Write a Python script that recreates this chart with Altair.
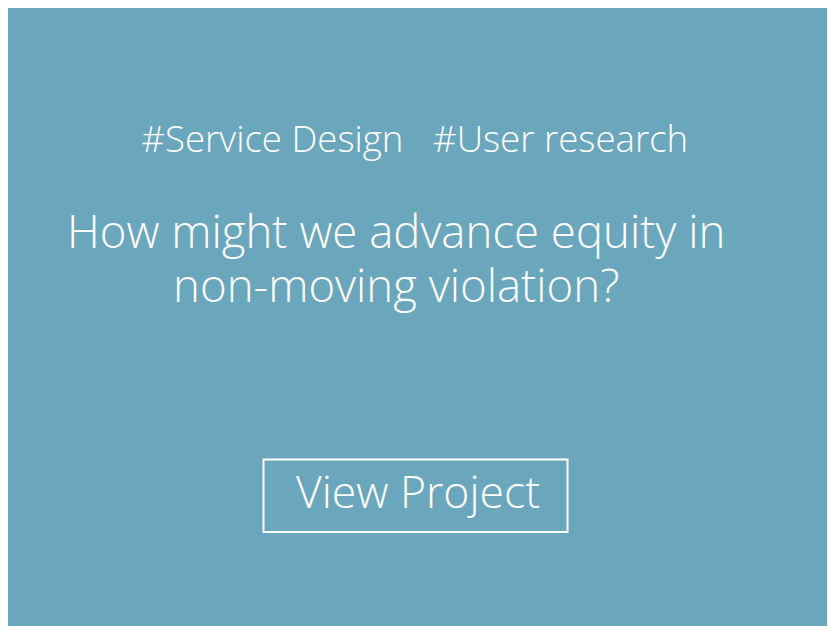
import altair as alt
import pandas as pd

tags = ["#Service Design", "#User research"]
tag_x = [275, 566]
title_lines = ["How might we advance equity in", "non-moving violation?"]
button_label = ["View Project"]

W, H = 827, 618
xs = alt.Scale(domain=[8, 835])
ys = alt.Scale(domain=[626, 8])

tag_df = pd.DataFrame({"t": tags, "x": tag_x, "y": [139, 139]})
title_df = pd.DataFrame({"t": title_lines, "x": [400, 400], "y": [233, 288]})
btn_df = pd.DataFrame({"t": button_label, "x": [422], "y": [496],
                       "x1": [266], "x2": [573], "y1": [461], "y2": [534]})

font = "Open Sans"

tag_layer = alt.Chart(tag_df).mark_text(
    font=font, fontSize=37, fontWeight=300, color="white", baseline="middle", align="center"
).encode(x=alt.X("x:Q", scale=xs, axis=None), y=alt.Y("y:Q", scale=ys, axis=None), text="t")

title_layer = alt.Chart(title_df).mark_text(
    font=font, fontSize=46, fontWeight=300, color="white", baseline="middle", align="center"
).encode(x=alt.X("x:Q", scale=xs, axis=None), y=alt.Y("y:Q", scale=ys, axis=None), text="t")

box = alt.Chart(btn_df).mark_rect(filled=False, stroke="white", strokeWidth=2).encode(
    x=alt.X("x1:Q", scale=xs, axis=None), x2="x2",
    y=alt.Y("y1:Q", scale=ys, axis=None), y2="y2")

btn_text = alt.Chart(btn_df).mark_text(
    font=font, fontSize=45, fontWeight=300, color="white", baseline="middle", align="center"
).encode(x=alt.X("x:Q", scale=xs, axis=None), y=alt.Y("y:Q", scale=ys, axis=None), text="t")

chart = alt.layer(box, tag_layer, title_layer, btn_text).properties(
    width=W, height=H, background="#6BA7BC", padding=0,
    autosize=alt.AutoSizeParams(type="fit", contains="padding")
).configure_view(strokeWidth=0)

chart.save("out.html", embed_options={"renderer": "svg", "actions": False})
